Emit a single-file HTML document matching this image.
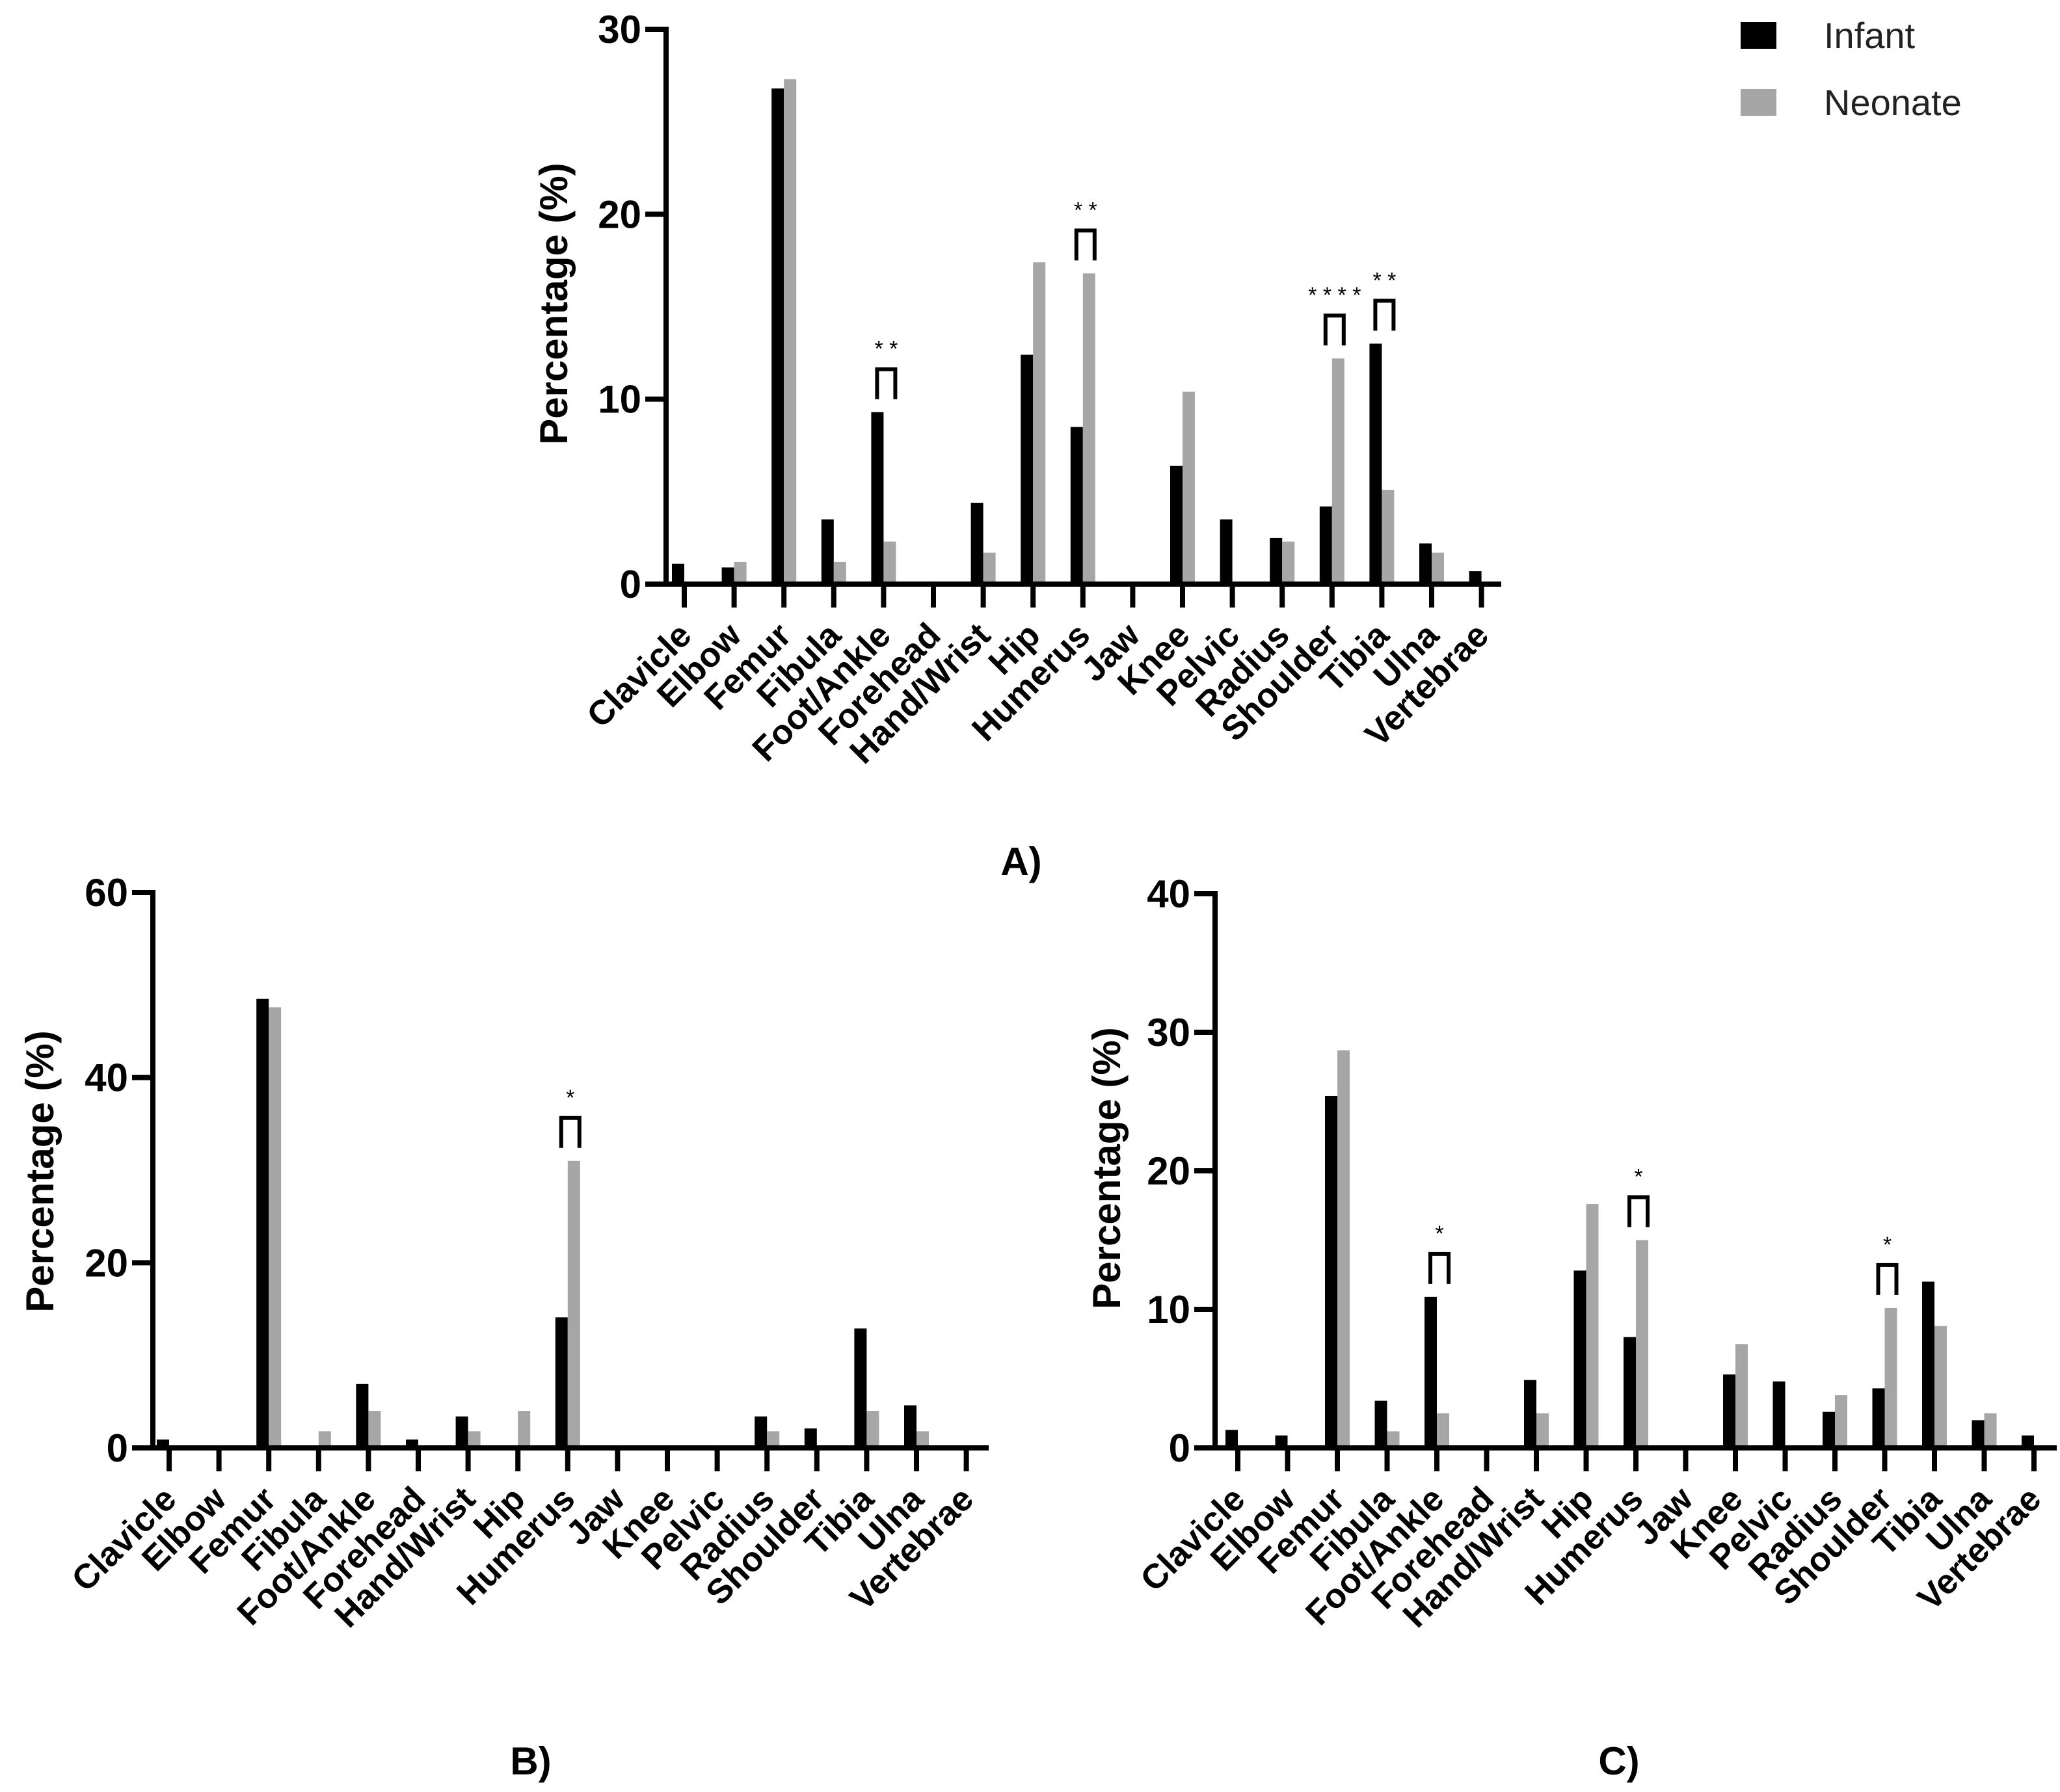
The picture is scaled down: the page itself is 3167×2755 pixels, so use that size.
<!DOCTYPE html>
<html><head><meta charset="utf-8"><style>
html,body{margin:0;padding:0;background:#fff;}
svg{display:block;font-family:"Liberation Sans",Arial,sans-serif;}
</style></head><body>
<svg id="fig" width="3167" height="2755" viewBox="0 0 3167 2755" xmlns="http://www.w3.org/2000/svg">
<rect width="3167" height="2755" fill="#fff"/>
<g>
<rect x="2676" y="34" width="55" height="41" fill="#000"/>
<text x="2804" y="74" font-size="56" fill="#222">Infant</text>
<rect x="2676" y="137" width="55" height="41" fill="#a6a6a6"/>
<text x="2804" y="177" font-size="56" fill="#222">Neonate</text>
</g>
<text x="1570" y="1345" font-size="60" font-weight="bold" text-anchor="middle">A)</text>
<text x="816" y="2728" font-size="60" font-weight="bold" text-anchor="middle">B)</text>
<text x="2489" y="2728" font-size="60" font-weight="bold" text-anchor="middle">C)</text>
</svg>
<script>
const categories = ["Clavicle","Elbow","Femur","Fibula","Foot/Ankle","Forehead","Hand/Wrist","Hip","Humerus","Jaw","Knee","Pelvic","Radius","Shoulder","Tibia","Ulna","Vertebrae"];
const infantA = [1.1,0.9,26.8,3.5,9.3,0,4.4,12.4,8.5,0,6.4,3.5,2.5,4.2,13.0,2.2,0.7];
const neonateA = [0,1.2,27.3,1.2,2.3,0,1.7,17.4,16.8,0,10.4,0,2.3,12.2,5.1,1.7,0];
const infantB = [0.9,0,48.5,0,6.9,0.9,3.4,0,14.1,0,0,0,3.4,2.1,12.9,4.6,0];
const neonateB = [0,0,47.6,1.8,4.0,0,1.8,4.0,31.0,0,0,0,1.8,0,4.0,1.8,0];
const infantC = [1.3,0.9,25.4,3.4,10.9,0,4.9,12.8,8.0,0,5.3,4.8,2.6,4.3,12.0,2.0,0.9];
const neonateC = [0,0,28.7,1.2,2.5,0,2.5,17.6,15.0,0,7.5,0,3.8,10.1,8.8,2.5,0];
const ticksA = [0,10,20,30];
const ticksB = [0,20,40,60];
const ticksC = [0,10,20,30,40];
const sigA = [[4,"* *"],[8,"* *"],[13,"* * * *"],[14,"* *"]];
const sigB = [[8,"*"]];
const sigC = [[4,"*"],[8,"*"],[13,"*"]];

const NS="http://www.w3.org/2000/svg";
const svg=document.getElementById('fig');
function mk(tag,attrs,parent){const e=document.createElementNS(NS,tag);for(const k in attrs)e.setAttribute(k,attrs[k]);parent.appendChild(e);return e;}

function panel(id,cfg,infant,neonate,ticks,sig){
  const g=mk('g',{},svg);
  
  
  const yMax=ticks[ticks.length-1];
  const y=v=>cfg.y0-(cfg.y0-cfg.yTop)*v/yMax;
  const x=i=>cfg.t0+i*cfg.dx;
  const bw=19;
  infant.forEach((v,i)=>{ if(v<=0)return;
    const r=mk('rect',{x:x(i)-bw,y:y(v),width:bw,height:cfg.y0-y(v),fill:'#000'},g);
    
    });
  neonate.forEach((v,i)=>{ if(v<=0)return;
    const r=mk('rect',{x:x(i),y:y(v),width:bw,height:cfg.y0-y(v),fill:'#a6a6a6'},g);
    
    });
  const ya=mk('line',{x1:cfg.ax,y1:cfg.yTop-4,x2:cfg.ax,y2:cfg.y0+4,stroke:'#000','stroke-width':8},g);
  
  
  const xa=mk('line',{x1:cfg.ax-4,y1:cfg.y0,x2:cfg.xEnd,y2:cfg.y0,stroke:'#000','stroke-width':8},g);
  
  
  ticks.forEach(t=>{
    mk('line',{x1:cfg.ax-32,y1:y(t),x2:cfg.ax,y2:y(t),stroke:'#000','stroke-width':8},g);
    const tl=mk('text',{x:cfg.ax-38,y:y(t)+21,'font-size':60,'font-weight':'bold','text-anchor':'end'},g);
    tl.textContent=t;
    
    
  });
  categories.forEach((c,i)=>{
    mk('line',{x1:x(i),y1:cfg.y0,x2:x(i),y2:cfg.y0+36,stroke:'#000','stroke-width':8},g);
    const tx=x(i)+14, ty=cfg.y0+82;
    const tl=mk('text',{x:tx,y:ty,'font-size':53,'font-weight':'bold','text-anchor':'end',transform:`rotate(-45 ${tx} ${ty})`},g);
    tl.textContent=c;
    
    
  });
  const ttl=mk('text',{x:cfg.tx,y:cfg.ty,'font-size':60,'font-weight':'bold','text-anchor':'middle',transform:`rotate(-90 ${cfg.tx} ${cfg.ty})`},g);
  ttl.textContent='Percentage (%)';
  
  
  sig.forEach(([i,s])=>{
    const top=Math.min(y(infant[i]),y(neonate[i]));
    const bb=top-20, bt=bb-46, x1=x(i)-10, x2=x(i)+18;
    const p=mk('path',{d:`M${x1} ${bb} V${bt} H${x2} V${bb}`,fill:'none',stroke:'#000','stroke-width':6},g);
    
    
    const st=mk('text',{x:(x1+x2)/2,y:bt-20,'font-size':34,'text-anchor':'middle'},g);
    st.textContent=s;
    
    
  });
}
panel('a',{ax:1024,y0:898,yTop:45,t0:1052,dx:76.6,xEnd:2308,tx:872,ty:467},infantA,neonateA,ticksA,sigA);
panel('b',{ax:235,y0:2226,yTop:1372,t0:260,dx:76.6,xEnd:1520,tx:82,ty:1801},infantB,neonateB,ticksB,sigB);
panel('c',{ax:1868,y0:2226,yTop:1374,t0:1903,dx:76.5,xEnd:3162,tx:1722,ty:1796},infantC,neonateC,ticksC,sigC);
</script>
</body></html>
